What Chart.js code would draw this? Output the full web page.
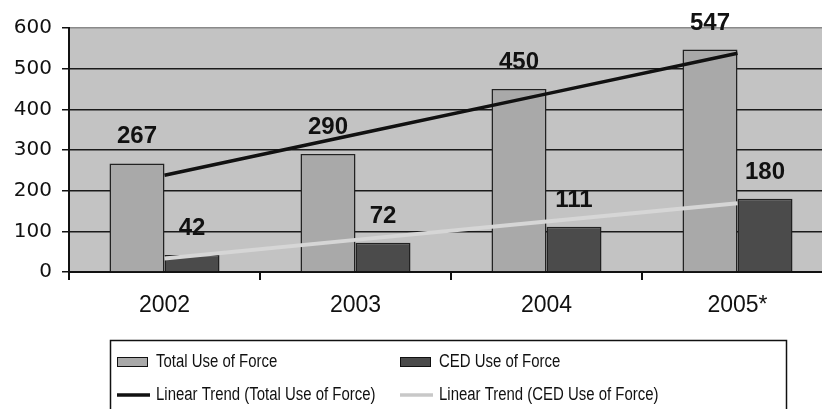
<!DOCTYPE html>
<html>
<head>
<meta charset="utf-8">
<script src="https://cdn.jsdelivr.net/npm/chart.js@4.4.1/dist/chart.umd.min.js"></script>
<style>
  html, body { margin: 0; padding: 0; background: #fff; overflow: hidden; }
</style>
</head>
<body>
<canvas id="useOfForce" width="835" height="409"></canvas>
<script>
// --- data ---
const years = ['2002', '2003', '2004', '2005*'];
const totalUse = [267, 290, 450, 547];
const cedUse = [42, 72, 111, 180];
// trend lines as they sit in the picture (start/end at category centres)
const totalTrend = [238, 338, 438, 538];
const cedTrend = [33, 79, 124, 169];
const yTicks = [0, 100, 200, 300, 400, 500, 600];

const legendItems = [
    { label: 'Total Use of Force', kind: 'box', fill: '#a9a9a9' },
    { label: 'CED Use of Force', kind: 'box', fill: '#4b4b4b' },
    { label: 'Linear Trend (Total Use of Force)', kind: 'line', fill: '#111' },
    { label: 'Linear Trend (CED Use of Force)', kind: 'line', fill: '#c8c8c8' }
];

// grey panel behind the plot
const plotBg = {
    id: 'plotBg',
    beforeDraw(chart) {
        const { ctx, chartArea: a } = chart;
        ctx.save();
        ctx.fillStyle = '#c3c3c3';
        ctx.fillRect(a.left, a.top, a.right - a.left, a.bottom - a.top);
        ctx.restore();
    }
};

// numbers over the bars
const barLabels = {
    id: 'barLabels',
    afterDatasetsDraw(chart) {
        const ctx = chart.ctx;
        ctx.save();
        ctx.font = 'bold 24px "Liberation Sans", Arial, sans-serif';
        ctx.fillStyle = '#111';
        ctx.textAlign = 'center';
        ctx.textBaseline = 'alphabetic';
        [0, 1].forEach(di => {
            const meta = chart.getDatasetMeta(di);
            meta.data.forEach((bar, i) => {
                ctx.fillText(chart.data.datasets[di].data[i], bar.x, bar.y - 20);
            });
        });
        ctx.restore();
    }
};

// boxed legend underneath, two columns (text is a condensed face in the original)
const boxLegend = {
    id: 'boxLegend',
    afterDraw(chart) {
        const ctx = chart.ctx;
        ctx.save();
        ctx.strokeStyle = '#111';
        ctx.lineWidth = 1.5;
        ctx.strokeRect(110.5, 340.5, 676, 100);
        ctx.font = '18px "Liberation Sans", Arial, sans-serif';
        ctx.textBaseline = 'middle';
        const cols = [117, 400];
        const rows = [362, 395];
        legendItems.forEach((it, i) => {
            const x = cols[i % 2], y = rows[Math.floor(i / 2)];
            if (it.kind === 'box') {
                ctx.fillStyle = it.fill;
                ctx.fillRect(x, y - 5, 31, 10);
                ctx.strokeStyle = '#111';
                ctx.lineWidth = 1;
                ctx.strokeRect(x + 0.5, y - 4.5, 30, 9);
            } else {
                ctx.strokeStyle = it.fill;
                ctx.lineWidth = 3.5;
                ctx.beginPath();
                ctx.moveTo(x, y);
                ctx.lineTo(x + 33, y);
                ctx.stroke();
            }
            ctx.save();
            ctx.translate(x + 39, y);
            ctx.scale(0.83, 1);
            ctx.fillStyle = '#111';
            ctx.fillText(it.label, 0, 0);
            ctx.restore();
        });
        ctx.restore();
    }
};

new Chart(document.getElementById('useOfForce').getContext('2d'), {
    type: 'bar',
    data: {
        labels: years,
        datasets: [
            {
                label: 'Total Use of Force',
                data: totalUse,
                backgroundColor: '#a9a9a9',
                borderColor: '#222',
                borderWidth: 1.5,
                categoryPercentage: 0.576,
                barPercentage: 1.0,
                order: 2
            },
            {
                label: 'CED Use of Force',
                data: cedUse,
                backgroundColor: '#4b4b4b',
                borderColor: '#222',
                borderWidth: 1.5,
                categoryPercentage: 0.576,
                barPercentage: 1.0,
                order: 2
            },
            {
                type: 'line',
                label: 'Linear Trend (Total Use of Force)',
                data: totalTrend,
                borderColor: '#111',
                borderWidth: 3.5,
                pointRadius: 0,
                tension: 0,
                order: 1
            },
            {
                type: 'line',
                label: 'Linear Trend (CED Use of Force)',
                data: cedTrend,
                borderColor: '#d6d6d6',
                borderWidth: 4,
                pointRadius: 0,
                tension: 0,
                order: 1
            }
        ]
    },
    options: {
        responsive: false,
        animation: false,
        layout: { padding: { top: 28, right: 2, bottom: 92, left: 0 } },
        plugins: { legend: { display: false }, tooltip: { enabled: false } },
        scales: {
            x: {
                afterFit(scale) { scale.height = 45; },
                grid: {
                    drawOnChartArea: false,
                    drawTicks: true,
                    tickLength: 8,
                    tickColor: '#111',
                    lineWidth: 2
                },
                border: { color: '#111', width: 2 },
                ticks: {
                    color: '#111',
                    padding: 12,
                    font: { family: '"Liberation Sans", Arial, sans-serif', size: 23 }
                }
            },
            y: {
                min: 0,
                max: 600,
                afterFit(scale) { scale.width = 69; },
                afterBuildTicks(scale) { scale.ticks = yTicks.map(v => ({ value: v })); },
                grid: {
                    color: ctx => (ctx.tick && ctx.tick.value === 600) ? '#8a8a8a' : '#1a1a1a',
                    lineWidth: 1.5,
                    tickLength: 7,
                    tickColor: '#111'
                },
                border: { color: '#111', width: 2 },
                ticks: {
                    color: '#111',
                    padding: 10,
                    font: { family: '"DejaVu Sans", sans-serif', size: 20 }
                }
            }
        }
    },
    plugins: [plotBg, barLabels, boxLegend]
});
</script>
</body>
</html>
